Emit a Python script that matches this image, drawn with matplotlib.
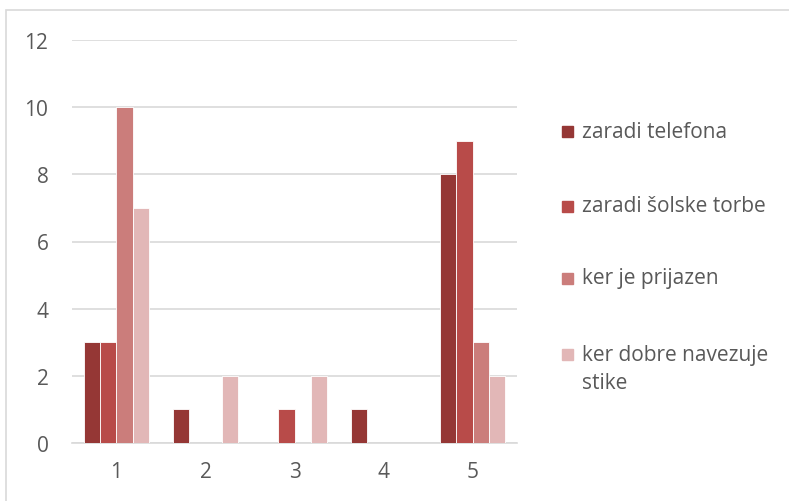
import numpy as np
import matplotlib.pyplot as plt
from matplotlib.patches import Rectangle

groups = ['1', '2', '3', '4', '5']
series = ['zaradi telefona', 'zaradi šolske torbe', 'ker je prijazen',
          'ker dobre navezuje\nstike']
telefon = [3, 1, 0, 1, 8]
torba = [3, 0, 1, 0, 9]
prijazen = [10, 0, 0, 0, 3]
stike = [7, 2, 2, 0, 2]
colors = ['#953735', '#B84B49', '#CB7D7B', '#E2B7B7']

plt.rcParams['font.family'] = ['Open Sans', 'DejaVu Sans']
txt = '#595959'

W, H = 789, 502
fig = plt.figure(figsize=(W / 100, H / 100), dpi=100)
ax = fig.add_axes([72 / W, 1 - 444 / H, 445 / W, 403 / H])

# outer chart border
fig.patches.append(Rectangle((6 / W, -0.1), 1.2, 1 - 11 / H + 0.1, transform=fig.transFigure,
                             fill=False, edgecolor='#D9D9D9', lw=1.2))

x = np.arange(1, 6)
w = 0.183
for i, vals in enumerate([telefon, torba, prijazen, stike]):
    ax.bar(x + (i - 1.5) * w, vals, w, color=colors[i],
           edgecolor='white', linewidth=0.6, zorder=3)

ax.set_xlim(0.5, 5.5)
ax.set_ylim(0, 12)
ax.set_yticks(range(0, 13, 2))
ax.set_xticks(x)
ax.set_xticklabels(groups)
ax.yaxis.grid(True, color='#D9D9D9', lw=1.2, zorder=0)
for s in ['top', 'right', 'left']:
    ax.spines[s].set_visible(False)
ax.spines['bottom'].set_color('#D9D9D9')
ax.spines['bottom'].set_linewidth(1.2)
ax.tick_params(length=0, labelsize=15, colors=txt)
ax.tick_params(axis='y', pad=17)
ax.tick_params(axis='x', pad=13)

# legend on the right, entries spaced like the original
leg_y = [132, 207, 279, 355]
for lab, c, yc in zip(series, colors, leg_y):
    fig.patches.append(Rectangle((562 / W, 1 - (yc + 5.5) / H), 11 / W, 11 / H,
                                 transform=fig.transFigure, color=c))
    for k, line in enumerate(lab.split('\n')):
        fig.text(582 / W, 1 - (yc + 29 * k) / H, line, fontsize=15, color=txt,
                 va='center', ha='left')

fig.savefig('out.png', dpi=100)
